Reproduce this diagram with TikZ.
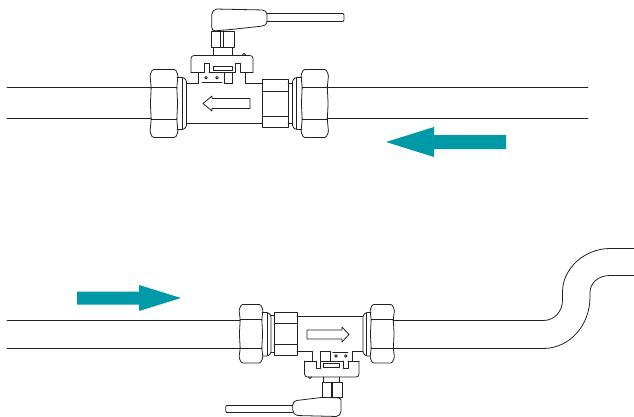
\documentclass[tikz,border=0pt]{standalone}
\definecolor{flowteal}{HTML}{0099A8}
\definecolor{ink}{HTML}{222222}
\tikzset{
  part/.style={draw=ink,line width=0.8pt,line join=round,line cap=round},
  flow/.style={fill=flowteal,draw=none}
}
% hex nut: x1,x2,ytop,ybot,yline1,yline2
\newcommand{\hexnut}[6]{%
  \draw[part,rounded corners=1.2pt] ({#1+2.5},#3) -- ({#2-2.5},#3) -- (#2,{#3+5.5}) -- ({#2-1.2},#5) -- ({#2-0.4},{(#5+#6)/2}) -- ({#2-1.2},#6) -- (#2,{#4-5.5}) -- ({#2-2.5},#4) -- ({#1+2.5},#4) -- (#1,{#4-5.5}) -- ({#1+1.2},#6) -- ({#1+0.4},{(#5+#6)/2}) -- ({#1+1.2},#5) -- (#1,{#3+5.5}) -- cycle;
  \draw[part] ({#1+1.2},#5) -- ({#2-1.2},#5) ({#1+1.2},#6) -- ({#2-1.2},#6);
}
\begin{document}
\begin{tikzpicture}[x=1pt,y=-1pt]
\useasboundingbox (0,0) rectangle (634,417);
% ---------- top pipe
\draw[part] (7,87.5) -- (151,87.5) (7,118.5) -- (151,118.5);
\draw[part] (327,87.5) -- (588,87.5) (327,118.5) -- (588,118.5);
% top nuts
\hexnut{150}{178}{69.5}{137.5}{87.5}{119.5}
\hexnut{301}{328.5}{69.5}{137.5}{87.5}{119.5}
% top collars
\draw[part,rounded corners=1.2pt] (177,77.5) -- (183.5,77.5) -- (186.5,80.5) -- (186.5,126.5) -- (183.5,129.5) -- (177,129.5);
\draw[part] (182,78) -- (182,129);
\draw[part,rounded corners=1.2pt] (302,77.5) -- (295.5,77.5) -- (292.5,80.5) -- (292.5,126.5) -- (295.5,129.5) -- (302,129.5);
\draw[part] (296.5,78) -- (296.5,129);
\draw[part] (288,83.5) -- (292.5,83.5) (288,123.5) -- (292.5,123.5);
% top union
\draw[part] (262.5,79.5) rectangle (288,127.5);
\draw[part] (262.5,91.5) -- (288,91.5) (262.5,116.5) -- (288,116.5);
% top body
\draw[part] (186.5,123.5) -- (262.5,123.5);
\draw[part] (186.5,83.5) -- (198.5,83.5) -- (198.5,72.5);
\draw[part] (224.5,72.5) -- (224.5,83.5) -- (232,83.5) -- (232,72.5);
\draw[part] (245.5,72.5) -- (245.5,83.5) -- (262.5,83.5);
\draw[part] (202,82) -- (222,82);
\draw[part] (206,77.7) circle (1.3) (217,77.7) circle (1.3);
% top inner arrow
\draw[part] (203,103.5) -- (212,96) -- (212,98.5) -- (250,98.5) -- (250,108.5) -- (212,108.5) -- (212,111) -- cycle;
% top cap
\draw[part,rounded corners=3pt] (191,72.5) -- (191,55.5) -- (253,55.5) -- (253,72.5);
\draw[part] (191,72.5) -- (204,72.5) (209,72.5) -- (235.3,72.5) (240.7,72.5) -- (253,72.5);
\draw[part] (204,72.5) -- (204,63.5) -- (209,63.5) -- (209,72.5);
\draw[part] (235.3,72.5) -- (235.3,63.5) -- (240.7,63.5) -- (240.7,72.5);
\draw[part] (213,66) rectangle (232,70);
\draw[part] (242.5,55) arc (180:360:1.6);
% top stem and nut
\draw[part] (213,55) -- (213,47.5) (232,55) -- (232,47.5);
\draw[part] (211,31.5) rectangle (234,47.5);
\draw[part] (220,31) -- (220,47.5) (223.5,31) -- (223.5,47.5);
% top handle
\draw[part,rounded corners=1.8pt] (213.5,31) -- (211.7,29) -- (211.7,13) -- (215,9) -- (264,10) -- (267,12.5) -- (267,24) -- (263,26) -- (233,29.3) -- cycle;
\draw[part] (267,13.5) -- (343,13.5) -- (344,15) -- (344,20) -- (343,21.5) -- (267,21.5);
% top flow arrow
\fill[flow] (386,142) -- (434,127) -- (434,135) -- (506,135) -- (506,149) -- (434,149) -- (434,157) -- cycle;
% ---------- bottom pipe
\draw[part] (7,320.5) -- (240,320.5) (7,348.5) -- (240,348.5);
\draw[part] (393,320.5) -- (543,320.5) .. controls (555,320.5) and (562.5,311) .. (562.5,300) -- (562.5,292) .. controls (562.5,268) and (585,248.5) .. (610,248.5) -- (634,248.5);
\draw[part] (393,348.5) -- (543,348.5) .. controls (570,348.5) and (590,325) .. (590,297) -- (590,293) .. controls (590,283) and (598,275.5) .. (610,275.5) -- (634,275.5);
% bottom nuts
\hexnut{239}{263}{304.5}{363}{319.5}{348.5}
\hexnut{370}{394.5}{304.5}{363}{319.5}{348.5}
% bottom collars
\draw[part,rounded corners=1.2pt] (262,312.5) -- (268,312.5) -- (271,315.5) -- (271,353) -- (268,356) -- (262,356);
\draw[part] (267,313) -- (267,355.5);
\draw[part] (271,315.5) -- (274,315.5) (271,352) -- (274,352);
\draw[part,rounded corners=1.2pt] (371,312.5) -- (366,312.5) -- (363,315.5) -- (363,353) -- (366,356) -- (371,356);
\draw[part] (366.5,313) -- (366.5,355.5);
% bottom union
\draw[part] (274,312.5) rectangle (297,355);
\draw[part] (274,323.5) -- (297,323.5) (274,344.5) -- (297,344.5);
% bottom body
\draw[part] (297,316.5) -- (363,316.5);
\draw[part] (297,351.5) -- (312,351.5) -- (312,361);
\draw[part] (320.7,361) -- (320.7,351.5) -- (330.7,351.5) -- (330.7,361);
\draw[part] (352.7,361) -- (352.7,351.5) -- (363,351.5);
\draw[part] (332.7,352) -- (348,352);
\draw[part] (336,356) circle (1.3) (345.7,356) circle (1.3);
% bottom inner arrow
\draw[part] (349,334.5) -- (342,327) -- (342,330) -- (307,330) -- (307,339) -- (342,339) -- (342,342) -- cycle;
% bottom cap
\draw[part,rounded corners=3pt] (304.5,361) -- (304.5,377) -- (359,377) -- (359,361);
\draw[part] (304.5,361) -- (316,361) (320.7,361) -- (343,361) (348,361) -- (359,361);
\draw[part] (316,361) -- (316,368.7) -- (320.7,368.7) -- (320.7,361);
\draw[part] (343,361) -- (343,368.7) -- (348,368.7) -- (348,361);
\draw[part] (323,363.5) rectangle (339,367);
\draw[part] (311.5,377) arc (0:180:1.5);
% bottom stem and nut
\draw[part] (323.5,377) -- (323.5,382.5) (339,377) -- (339,382.5);
\draw[part] (322,382.5) rectangle (342,397);
\draw[part] (331,382.5) -- (331,397) (332.8,382.5) -- (332.8,397);
% bottom handle
\draw[part,rounded corners=1.8pt] (341,398) -- (341,413) -- (338,416.5) -- (296,415.5) -- (292.8,412) -- (292.8,403) -- (295,400.7) -- (323,397.3) -- cycle;
\draw[part] (292.8,405.5) -- (226.5,405.5) -- (225.7,407) -- (225.7,411) -- (226.5,412.5) -- (292.8,412.5);
% bottom flow arrow
\fill[flow] (181,298) -- (139,285) -- (139,291.5) -- (77,291.5) -- (77,304.5) -- (139,304.5) -- (139,311) -- cycle;
\end{tikzpicture}
\end{document}
